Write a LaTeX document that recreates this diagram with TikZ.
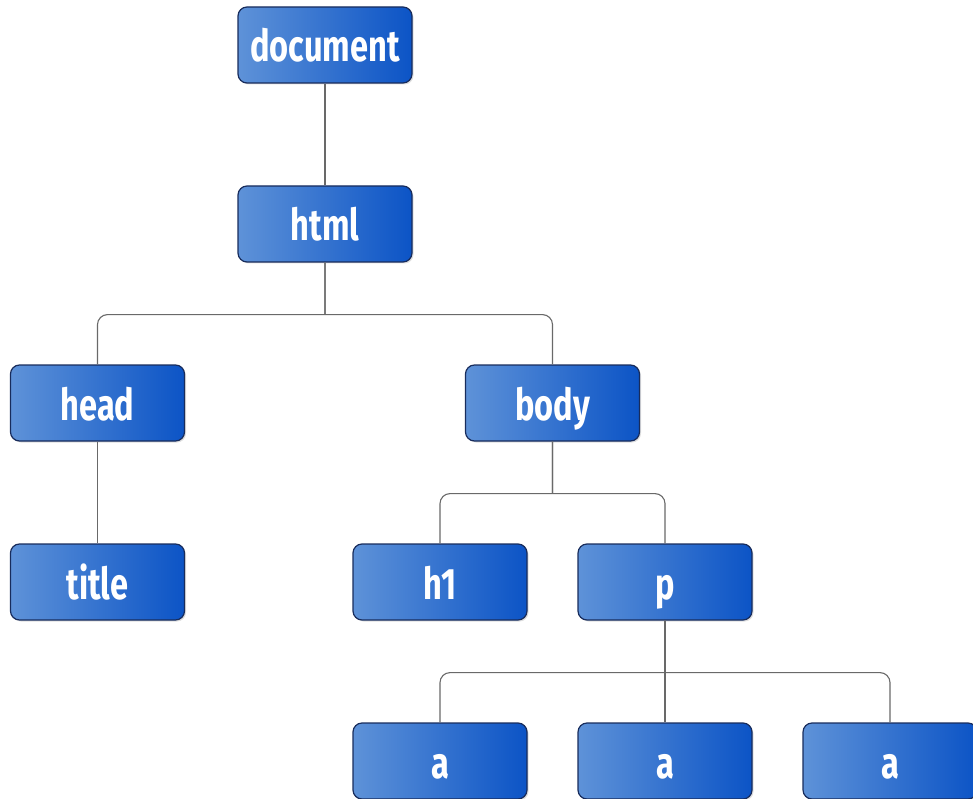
\documentclass[tikz,border=0pt]{standalone}
\usepackage{fontspec}
\newfontfamily\treefont[FakeStretch=0.74]{Fira Sans}
\usetikzlibrary{shadows,calc}
\definecolor{boxlight}{RGB}{94,146,216}
\definecolor{boxdark}{RGB}{12,84,198}
\definecolor{boxedge}{RGB}{24,44,92}
\definecolor{wire}{RGB}{105,105,105}

\begin{document}
\begin{tikzpicture}
	[x=1pt,y=1pt,
	level distance=179pt,
	every node/.style={draw=boxedge,line width=1.2pt,rounded corners=9pt,left color=boxlight,right color=boxdark,
		minimum width=174pt,minimum height=76pt,text height=34pt,text depth=0pt,text=white,
		font=\treefont\bfseries\fontsize{44}{44}\selectfont,
		drop shadow={opacity=0.25,shadow xshift=1.5pt,shadow yshift=-1.5pt}},
	edge from parent/.style={draw=wire,line width=1.1pt},
	bent/.style={edge from parent path={(\tikzchildnode.north) [rounded corners=10pt] |- ($(\tikzparentnode.south)+(0,-52)$)
		(\tikzparentnode.south) -- ++(0,-52)}},
	straight/.style={edge from parent path={(\tikzparentnode.south) -- (\tikzchildnode.north)}},
	level 2/.style={sibling distance=455pt},
	level 3/.style={sibling distance=225pt},
	level 4/.style={sibling distance=225pt}]
	\useasboundingbox (0,0) rectangle (973,-799);
	\node (document) at (325,-45) {document}
	child[straight] {node (html) {html}
		child[bent] {node (head) {head}
			child[straight] {node (title) {title}}
		}
		child[bent] {node (body) {body}
			child {node (h1) {h1}}
			child {node (p) {p}
				child {node (a1) {a}}
				child[straight] {node (a2) {a}}
				child {node (a3) {a}}
			}
		}
	};
\end{tikzpicture}
\end{document}
